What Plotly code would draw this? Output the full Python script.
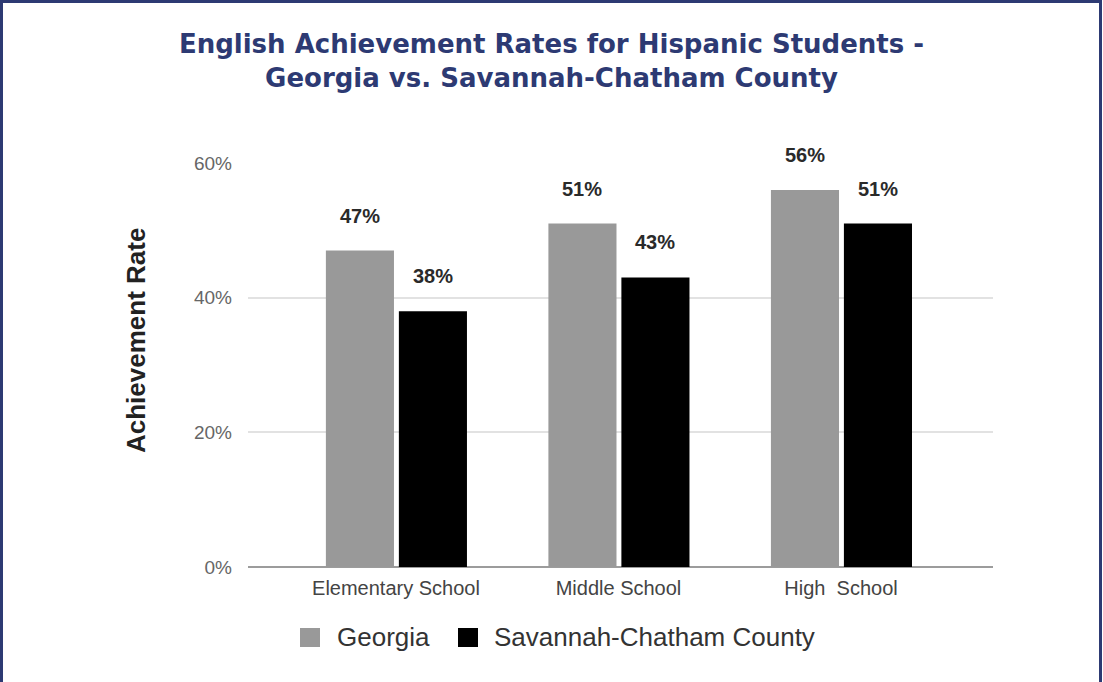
import plotly.graph_objects as go

# Chart data
categories = ["Elementary School", "Middle School", "High\u00a0 School"]
series_names = ["Georgia", "Savannah-Chatham County"]
georgia = [47, 51, 56]
savannah = [38, 43, 51]
y_ticks = [0, 20, 40, 60]
y_tick_labels = ["0%", "20%", "40%", "60%"]

W, H = 1103, 682
L, R, T, B = 248, 110, 163, 115
pw, ph = W - L - R, H - T - B

NAVY = "#2d3a73"
bar_w = 0.306
offsets = [-0.315, 0.013]
colors = ["#999999", "#000000"]
BASE_FONT = "Liberation Sans, Arial"


def px_x(p):
    """page pixel x -> paper fraction"""
    return (p - L) / pw


def px_y(p):
    """page pixel y -> paper fraction"""
    return 1 - (p - T) / ph


fig = go.Figure()
x_idx = list(range(len(categories)))
for name, vals, off, col in zip(series_names, [georgia, savannah], offsets, colors):
    fig.add_trace(go.Bar(
        x=x_idx, y=vals, name=name, width=bar_w, offset=off,
        marker=dict(color=col, line=dict(width=0)),
        hoverinfo="skip", showlegend=False,
    ))

# value labels above each bar
for vals, off in zip([georgia, savannah], offsets):
    for i, v in zip(x_idx, vals):
        fig.add_annotation(
            x=i + off + bar_w / 2, y=v, text=f"{v}%", showarrow=False,
            yshift=35, yanchor="middle", xanchor="center",
            font=dict(family=BASE_FONT, size=20, color="#2a2a2a", weight="bold"),
        )

# y-axis title, centred a little above the plot middle
fig.add_annotation(
    x=px_x(136), y=px_y(341), xref="paper", yref="paper", text="Achievement Rate",
    textangle=-90, showarrow=False, xanchor="center", yanchor="middle",
    font=dict(family=BASE_FONT, size=26, color="#222222", weight="bold"),
)

# legend: square swatches with labels underneath the axis
legend_items = [(300, 335), (458, 492)]
for (sq_x, tx_x), name, col in zip(legend_items, series_names, colors):
    fig.add_shape(type="rect", xref="paper", yref="paper",
                  x0=px_x(sq_x), x1=px_x(sq_x + 20), y0=px_y(647), y1=px_y(628),
                  fillcolor=col, line=dict(width=0))
    fig.add_annotation(
        x=px_x(tx_x), y=px_y(637), xref="paper", yref="paper", text=name,
        showarrow=False, xanchor="left", yanchor="middle",
        font=dict(family=BASE_FONT, size=26, color="#333333"),
    )

# frame along the page edges (left, top, right)
fig.add_shape(type="path", xref="paper", yref="paper",
              path=f"M {px_x(1.5)},{px_y(700)} L {px_x(1.5)},{px_y(1.5)} L {px_x(1100.5)},{px_y(1.5)} L {px_x(1100.5)},{px_y(700)}",
              line=dict(color=NAVY, width=3))

fig.update_layout(
    width=W, height=H,
    margin=dict(l=L, r=R, t=T, b=B, pad=0),
    paper_bgcolor="white", plot_bgcolor="white",
    barmode="overlay",
    showlegend=False,
    title=dict(
        text="English Achievement Rates for Hispanic Students -<br>Georgia vs. Savannah-Chatham County",
        x=0.5, xref="container", xanchor="center",
        y=1 - 53 / H, yref="container", yanchor="middle",
        font=dict(family="DejaVu Sans", size=26, color=NAVY, weight="bold"),
    ),
    xaxis=dict(
        range=[-0.665, 2.683], tickvals=x_idx, ticktext=categories,
        showgrid=False, zeroline=False, showline=False, ticks="",
        tickfont=dict(family=BASE_FONT, size=20, color="#444444"),
        ticklabelstandoff=7,
    ),
    yaxis=dict(
        range=[0, 60], tickvals=y_ticks, ticktext=y_tick_labels,
        showgrid=True, gridcolor="#e2e2e2", gridwidth=1.5,
        zeroline=True, zerolinecolor="#9c9c9c", zerolinewidth=2,
        showline=False, ticks="",
        tickfont=dict(family=BASE_FONT, size=19, color="#666666"),
        ticklabelstandoff=15,
    ),
)

fig.write_html("out.html")
